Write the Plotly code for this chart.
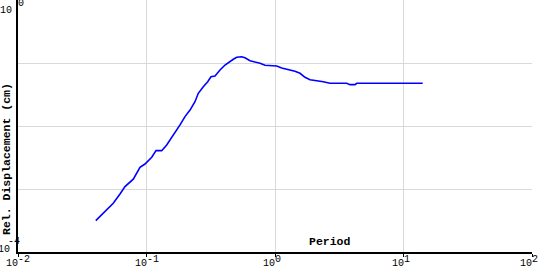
import math
import plotly.graph_objects as go

# Period (s) and relative displacement (cm)
period = [0.0403, 0.0434, 0.0475, 0.0551, 0.0622, 0.0680, 0.0789, 0.0839, 0.0890, 0.0973,
          0.1098, 0.1186, 0.1313, 0.1436, 0.1524, 0.1667, 0.1823, 0.1994, 0.2181, 0.2384,
          0.2529, 0.2767, 0.2995, 0.3176, 0.3412, 0.3733, 0.4083, 0.4737, 0.5034, 0.5507,
          0.5841, 0.6389, 0.6989, 0.7644, 0.8360, 1.031, 1.127, 1.269, 1.431, 1.565,
          1.712, 1.873, 2.048, 2.376, 2.679, 3.614, 3.835, 4.195, 4.324, 6.185, 14.11]
displacement = [3.14e-4, 3.63e-4, 4.36e-4, 5.93e-4, 8.33e-4, 1.09e-3, 1.43e-3, 1.77e-3, 2.21e-3, 2.49e-3,
                3.19e-3, 4.06e-3, 4.06e-3, 4.99e-3, 6.00e-3, 7.66e-3, 1.04e-2, 1.41e-2, 1.79e-2, 2.43e-2,
                3.30e-2, 4.21e-2, 5.05e-2, 6.06e-2, 6.22e-2, 7.74e-2, 9.29e-2, 0.1145, 0.1231, 0.1259,
                0.1214, 0.1088, 0.1049, 0.0989, 0.0919, 0.0896, 0.0833, 0.0794, 0.0738, 0.0687,
                0.0593, 0.0543, 0.0531, 0.0505, 0.0476, 0.0476, 0.0453, 0.0453, 0.0476, 0.0476, 0.0476]

x_tickvals = [0.01, 0.1, 1, 10, 100]
x_exponents = ["-2", "-1", "0", "1", "2"]
y_tickvals = [1e-4, 1e-3, 1e-2, 1e-1, 1]
y_labelled = [1e-4, 1]
y_exponents = ["-4", "0"]

x_title = "Period"
y_title = "Rel. Displacement (cm)"

tick_font = dict(family="Liberation Mono, DejaVu Sans Mono, monospace", size=10, color="#000000")
title_font = dict(family="Liberation Mono, DejaVu Sans Mono, monospace", size=11.5, color="#000000")

fig = go.Figure()
fig.add_trace(go.Scatter(x=period, y=displacement, mode="lines",
                         line=dict(color="#0000ff", width=1.6), showlegend=False,
                         hoverinfo="skip"))

annotations = []
# x tick labels: base "10" ends at the tick, exponent starts at the tick (raised)
for v, e in zip(x_tickvals, x_exponents):
    lx = math.log10(v)
    annotations.append(dict(text="10", xref="x", yref="paper", x=lx, y=-0.044,
                            xanchor="right", yanchor="middle", showarrow=False,
                            font=tick_font, borderpad=0, borderwidth=0))
    annotations.append(dict(text=e, xref="x", yref="paper", x=lx, y=-0.028,
                            xanchor="left", yanchor="middle", showarrow=False,
                            font=tick_font, borderpad=0, borderwidth=0))

# y tick labels (only the ends are labelled)
y_label_layout = {
    "-4": dict(base_x=-0.0146, base_shift=3, exp_x=-0.0195, exp_shift=11),
    "0": dict(base_x=-0.0117, base_shift=-10.5, exp_x=0.0, exp_shift=-3.5),
}
for v, e in zip(y_labelled, y_exponents):
    ly = math.log10(v)
    p = y_label_layout[e]
    annotations.append(dict(text="10", xref="paper", yref="y", x=p["base_x"], y=ly,
                            yshift=p["base_shift"], xanchor="right", yanchor="middle",
                            showarrow=False, font=tick_font, borderpad=0, borderwidth=0))
    annotations.append(dict(text=e, xref="paper", yref="y", x=p["exp_x"], y=ly,
                            yshift=p["exp_shift"], xanchor="left", yanchor="middle",
                            showarrow=False, font=tick_font, borderpad=0, borderwidth=0))

annotations.append(dict(text="<b>" + x_title + "</b>", xref="paper", yref="paper", x=0.607, y=0.04,
                        showarrow=False, font=title_font, xanchor="center", yanchor="middle"))
annotations.append(dict(text="<b>" + y_title + "</b>", xref="paper", yref="paper", x=-0.021, y=0.37,
                        showarrow=False, font=title_font, textangle=-90,
                        xanchor="center", yanchor="middle"))

fig.update_layout(
    width=540, height=270,
    margin=dict(l=18, r=8, t=0, b=18, autoexpand=False),
    paper_bgcolor="white", plot_bgcolor="white",
    showlegend=False,
    xaxis=dict(type="log", range=[-2, 2], tickvals=x_tickvals, showticklabels=False,
               automargin=False,
               showgrid=True, gridcolor="#d9d9d9", gridwidth=1,
               showline=True, linecolor="#000000", linewidth=2,
               ticks="outside", ticklen=3, tickcolor="#000000", zeroline=False),
    yaxis=dict(type="log", range=[-4, 0], tickvals=y_tickvals, showticklabels=False,
               automargin=False,
               showgrid=True, gridcolor="#d9d9d9", gridwidth=1,
               showline=True, linecolor="#000000", linewidth=2,
               ticks="", zeroline=False),
    annotations=annotations,
)

fig.write_html("out.html")
